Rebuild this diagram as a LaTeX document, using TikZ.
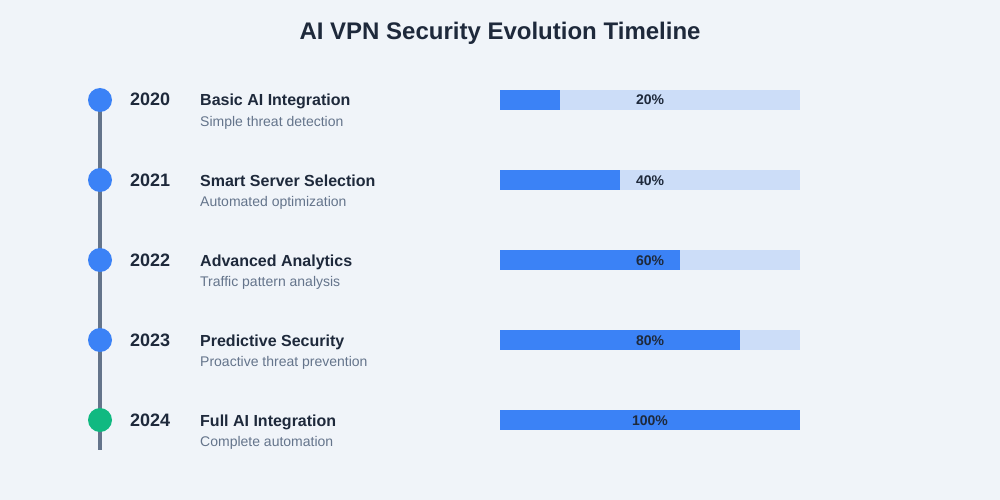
\documentclass[tikz,border=0pt]{standalone}
\usepackage{fontspec}
\setmainfont{Liberation Sans}
\usetikzlibrary{backgrounds}
\definecolor{bgc}{HTML}{F0F4F9}
\definecolor{dark}{HTML}{1E293B}
\definecolor{slate}{HTML}{64748B}
\definecolor{blue}{HTML}{3B82F6}
\definecolor{green}{HTML}{10B981}
\definecolor{track}{RGB}{204,221,248}
\tikzset{
  dot/.style={circle, fill=#1, minimum size=24pt, inner sep=0pt},
  yeartext/.style={anchor=base west, inner sep=0pt, text=dark, font=\bfseries\fontsize{18}{21}\selectfont},
  headtext/.style={anchor=base west, inner sep=0pt, text=dark, font=\bfseries\fontsize{16}{19}\selectfont},
  subtext/.style={anchor=base west, inner sep=0pt, text=slate, font=\fontsize{14}{17}\selectfont},
  trackbar/.style={anchor=west, fill=track, minimum width=300pt, minimum height=20pt, inner sep=0pt},
  fillbar/.style={anchor=west, fill=blue, minimum width=#1, minimum height=20pt, inner sep=0pt},
  pct/.style={anchor=base, inner sep=0pt, text=dark, font=\bfseries\fontsize{14}{17}\selectfont},
}
\begin{document}
\begin{tikzpicture}[x=1pt,y=-1pt]
\useasboundingbox (0,0) rectangle (1000,500);
\node[anchor=base, inner sep=0pt, text=dark, font=\bfseries\fontsize{24}{29}\selectfont] (title) at (500,40) {AI VPN Security Evolution Timeline};
\foreach \i/\yr/\hd/\sb/\p/\col in {0/2020/Basic AI Integration/Simple threat detection/20/blue,
  1/2021/Smart Server Selection/Automated optimization/40/blue,
  2/2022/Advanced Analytics/Traffic pattern analysis/60/blue,
  3/2023/Predictive Security/Proactive threat prevention/80/blue,
  4/2024/Full AI Integration/Complete automation/100/green}{
  \pgfmathsetmacro{\yy}{100+80*\i}
  \node[dot=\col] (c\i) at (100,\yy) {};
  \node[yeartext] (y\i) at (130,\yy+6) {\yr};
  \node[headtext] (h\i) at (200,\yy+6) {\hd};
  \node[subtext] (s\i) at (200,\yy+26) {\sb};
  \node[trackbar] (t\i) at (500,\yy) {};
  \node[fillbar=3*\p pt] (f\i) at (500,\yy) {};
  \node[pct] (p\i) at (650,\yy+5) {\p\%};
}
\coordinate (lineend) at (100,450);
\begin{pgfonlayer}{background}
\fill[bgc] (0,0) rectangle (1000,500);
\draw[slate, line width=4pt] (c0.center) -- (lineend);
\end{pgfonlayer}
\end{tikzpicture}
\end{document}
